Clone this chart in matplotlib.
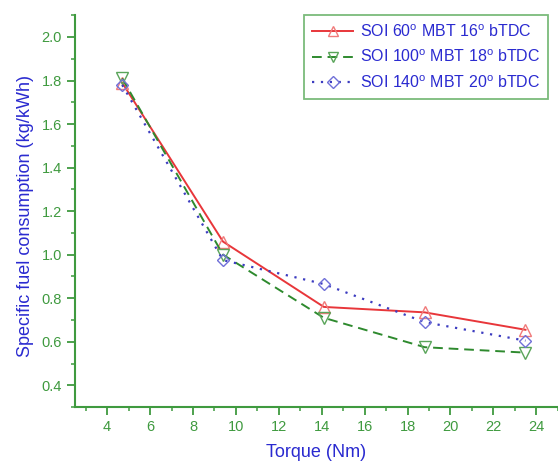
import matplotlib
matplotlib.use('Agg')
import matplotlib.pyplot as plt
from matplotlib.ticker import MultipleLocator, FormatStrFormatter

plt.rcParams['font.family'] = ['Liberation Sans', 'DejaVu Sans']
plt.rcParams['mathtext.fontset'] = 'custom'
plt.rcParams['mathtext.rm'] = 'Liberation Sans'

torque = [4.7, 9.4, 14.1, 18.8, 23.5]
sfc_soi60 = [1.79, 1.06, 0.76, 0.735, 0.655]
sfc_soi100 = [1.81, 1.00, 0.71, 0.575, 0.55]
sfc_soi140 = [1.78, 0.975, 0.865, 0.69, 0.605]

labels = [
    r'SOI 60$^\mathregular{o}$ MBT 16$^\mathregular{o}$ bTDC',
    r'SOI 100$^\mathregular{o}$ MBT 18$^\mathregular{o}$ bTDC',
    r'SOI 140$^\mathregular{o}$ MBT 20$^\mathregular{o}$ bTDC',
]

axis_green = '#3f9a3f'
text_blue = '#2a2ad0'

fig = plt.figure(figsize=(5.58, 4.61), dpi=100)
ax = fig.add_axes([0.1344, 0.117, 0.865, 0.85])

ax.plot(torque, sfc_soi60, color='#e8363a', linestyle='-', linewidth=1.4,
        marker='^', markersize=8, markerfacecolor='none', markeredgecolor='#f07a7a',
        label=labels[0])
ax.plot(torque, sfc_soi100, color='#2e8a2e', linestyle=(0, (5, 3)), linewidth=1.4,
        marker='v', markersize=8, markerfacecolor='none', markeredgecolor='#5aa55a',
        label=labels[1])
ax.plot(torque, sfc_soi140, color='#3c3cc0', linestyle=(0, (1, 3)), linewidth=1.6,
        marker='D', markersize=6.5, markerfacecolor='none', markeredgecolor='#7070d8',
        label=labels[2])

ax.set_xlim(2.5, 25)
ax.set_ylim(0.3, 2.1)
ax.set_xticks([4, 6, 8, 10, 12, 14, 16, 18, 20, 22, 24])
ax.set_yticks([0.4, 0.6, 0.8, 1.0, 1.2, 1.4, 1.6, 1.8, 2.0])
ax.xaxis.set_minor_locator(MultipleLocator(1))
ax.yaxis.set_minor_locator(MultipleLocator(0.1))
ax.yaxis.set_major_formatter(FormatStrFormatter('%.1f'))

for side in ['top', 'right']:
    ax.spines[side].set_visible(False)
for side in ['left', 'bottom']:
    ax.spines[side].set_color(axis_green)
    ax.spines[side].set_linewidth(1.5)

ax.tick_params(which='major', direction='out', length=6, width=1.3,
               color=axis_green, labelcolor=axis_green, labelsize=10.5)
ax.tick_params(which='minor', direction='out', length=3, width=1.1, color=axis_green)

ax.set_xlabel('Torque (Nm)', color=text_blue, fontsize=13, labelpad=7)
ax.set_ylabel('Specific fuel consumption (kg/kWh)', color=text_blue, fontsize=13)
ax.yaxis.set_label_coords(-0.085, 0.487)

leg = ax.legend(loc='upper right', bbox_to_anchor=(0.98, 1.0), borderaxespad=0,
                fontsize=11.5, frameon=True, fancybox=False, handlelength=2.6,
                borderpad=0.5, labelspacing=0.55, handletextpad=0.4,
                markerscale=0.9)
leg.get_frame().set_edgecolor('#5aaa5a')
leg.get_frame().set_linewidth(1.3)
for t in leg.get_texts():
    t.set_color(text_blue)

fig.savefig('out.png', dpi=100)
